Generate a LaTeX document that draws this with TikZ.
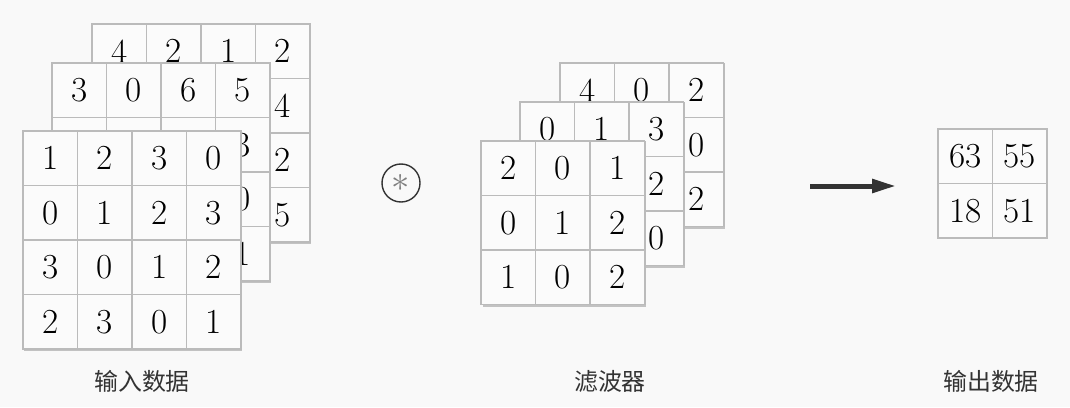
\documentclass[tikz,border=0pt]{standalone}
\usepackage{fontspec}
\newfontfamily\cjk{Noto Sans CJK SC}
\usetikzlibrary{arrows.meta,shadows}
\definecolor{bggray}{HTML}{F9F9F9}
\definecolor{cellwhite}{HTML}{FBFBFB}
\definecolor{gridgray}{HTML}{BBBBBB}
\definecolor{inkgray}{HTML}{333333}
\begin{document}
\begin{tikzpicture}[
    % GLOBAL CFG: one unit is one pixel of the figure
    x=0.025cm, y=-0.025cm,
    % Styles
    frame/.style={% sheet behind a grid, carries the shadow
        rectangle,
        draw=gridgray,
        fill=cellwhite,
        inner sep=0pt,
        drop shadow={shadow xshift=1pt, shadow yshift=-1.6pt, opacity=0.45},
        },
    cell/.style={% one entry of a grid
        rectangle,
        draw=gridgray,
        line width=0.9pt,
        fill=cellwhite,
        minimum size=1.3625cm,
        inner sep=0pt,
        font=\fontsize{25}{25}\selectfont,
        },
    operator/.style={% the convolution sign
        circle,
        draw=inkgray,
        line width=1pt,
        minimum size=0.95cm,
        inner sep=0pt,
        text=gray,
        },
    caption/.style={% texts under the grids
        font=\cjk\fontsize{17}{17}\selectfont,
        text=inkgray,
        },
    BigArrow/.style={% the thick arrow
        draw=inkgray,
        line width=0.125cm,
        -{Triangle[length=0.6cm, width=0.33cm]},
        },
    ]

    \useasboundingbox (0,0) rectangle (1070,407);
    \fill [bggray] (0,0) rectangle (1070,407);

    % Input data, three channels named inA (back) to inC (front)
    \node [frame, minimum size=5.45cm] (inA) at (201,133) {};
    \foreach \row [count=\r] in {{4,2,1,2},{{},{},{},4},{{},{},{},2},{{},{},{},5}}
        \foreach \v [count=\c] in \row
            \node [cell] (inA-\r-\c) at ({92+54.5*\c-27.25},{24+54.5*\r-27.25}) {\v};

    \node [frame, minimum size=5.45cm] (inB) at (161,172) {};
    \foreach \row [count=\r] in {{3,0,6,5},{{},{},{},3},{{},{},{},0},{{},{},{},1}}
        \foreach \v [count=\c] in \row
            \node [cell] (inB-\r-\c) at ({52+54.5*\c-27.25},{63+54.5*\r-27.25}) {\v};

    \node [frame, minimum size=5.45cm] (inC) at (132,240) {};
    \foreach \row [count=\r] in {{1,2,3,0},{0,1,2,3},{3,0,1,2},{2,3,0,1}}
        \foreach \v [count=\c] in \row
            \node [cell] (inC-\r-\c) at ({23+54.5*\c-27.25},{131+54.5*\r-27.25}) {\v};

    % Operator
    \node [operator] (op) at (401,183) {\scalebox{2.6}{$\ast$}};

    % Filter, three channels named fA (back) to fC (front)
    \node [frame, minimum size=4.0875cm] (fA) at (642,145) {};
    \foreach \row [count=\r] in {{4,0,2},{{},{},0},{{},{},2}}
        \foreach \v [count=\c] in \row
            \node [cell] (fA-\r-\c) at ({560+54.5*\c-27.25},{63+54.5*\r-27.25}) {\v};

    \node [frame, minimum size=4.0875cm] (fB) at (602,184) {};
    \foreach \row [count=\r] in {{0,1,3},{{},{},2},{{},{},0}}
        \foreach \v [count=\c] in \row
            \node [cell] (fB-\r-\c) at ({520+54.5*\c-27.25},{102+54.5*\r-27.25}) {\v};

    \node [frame, minimum size=4.0875cm] (fC) at (563,223) {};
    \foreach \row [count=\r] in {{2,0,1},{0,1,2},{1,0,2}}
        \foreach \v [count=\c] in \row
            \node [cell] (fC-\r-\c) at ({481+54.5*\c-27.25},{141+54.5*\r-27.25}) {\v};

    % Arrow
    \coordinate (arrS) at (810,186);
    \coordinate (arrE) at (896,186);
    \draw [BigArrow] (arrS) -- (arrE);

    % Output data
    \foreach \row [count=\r] in {{63,55},{18,51}}
        \foreach \v [count=\c] in \row
            \node [cell] (out-\r-\c) at ({938+54.5*\c-27.25},{129+54.5*\r-27.25}) {\v};

    % Captions
    \node [caption] (capIn) at (142,381) {输入数据};
    \node [caption] (capF) at (610,381) {滤波器};
    \node [caption] (capOut) at (991,381) {输出数据};
\end{tikzpicture}
\end{document}
